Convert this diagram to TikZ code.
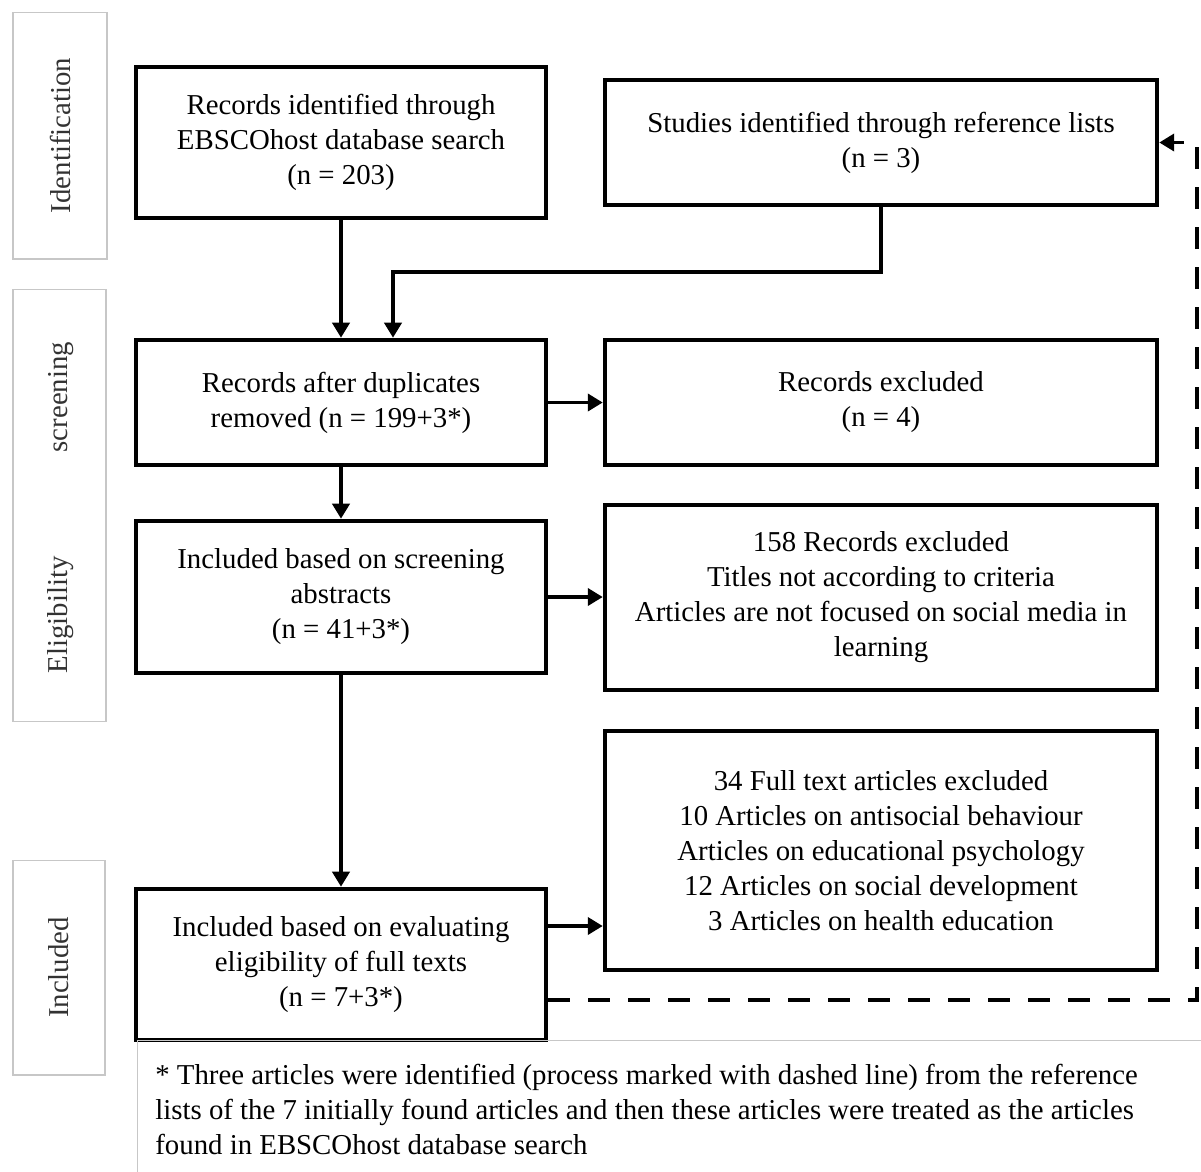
\documentclass[tikz,border=0pt]{standalone}
\usepackage{fontspec}
\setmainfont{Liberation Serif}
\usetikzlibrary{arrows.meta}
\newcommand{\flowfont}{\fontsize{16.4}{19.9}\selectfont}
\begin{document}
\begin{tikzpicture}[x=0.02cm, y=-0.02cm]
		\tikzset{bx/.style={draw=black, line width=2.6pt, align=center, inner sep=0pt, font=\flowfont, execute at begin node={\rule{0pt}{0.52cm}}}};
		\tikzset{ph/.style={draw=black!22, line width=0.6pt, inner sep=0pt}};
		\tikzset{phtxt/.style={rotate=90, text=black!80, font=\flowfont}};
		\tikzset{arr/.style={line width=2.2pt, -{Triangle[length=0.3cm, width=0.34cm]}}};
		\tikzset{dasharr/.style={arr, dash pattern=on 0.44cm off 0.36cm}};

		\useasboundingbox (0,0) rectangle (1201,1171);

		\node[ph, phtxt, minimum width=4.94cm, minimum height=1.88cm] (ident) at (60,135.5) {Identification};
		\node[ph, minimum width=1.86cm, minimum height=8.66cm] (screlig) at (59.5,505.5) {};
		\node[phtxt] (scr) at (61,397) {screening};
		\node[phtxt] (elig) at (61,615) {Eligibility};
		\node[ph, phtxt, minimum width=4.3cm, minimum height=1.84cm] (incl) at (59,967.5) {Included};

		\node[bx, minimum width=8.2cm, minimum height=3.02cm] (a) at (341,142.5) {Records identified through\\EBSCOhost database search\\(n = 203)};
		\node[bx, minimum width=11.04cm, minimum height=2.5cm] (b) at (881,142.5) {Studies identified through reference lists\\(n = 3)};
		\node[bx, minimum width=8.2cm, minimum height=2.5cm] (c) at (341,402.5) {Records after duplicates\\removed (n = 199+3*)};
		\node[bx, minimum width=11.04cm, minimum height=2.5cm] (d) at (881,402.5) {Records excluded\\(n = 4)};
		\node[bx, minimum width=8.2cm, minimum height=3.04cm] (e) at (341,597) {Included based on screening\\abstracts\\(n = 41+3*)};
		\node[bx, minimum width=11.04cm, minimum height=3.7cm] (f) at (881,597.5) {158 Records excluded\\Titles not according to criteria\\Articles are not focused on social media in\\learning};
		\node[bx, minimum width=8.2cm, minimum height=3.02cm] (g) at (341,964.5) {Included based on evaluating\\eligibility of full texts\\(n = 7+3*)};
		\node[bx, minimum width=11.04cm, minimum height=4.78cm] (h) at (881,850.5) {34 Full text articles excluded\\10 Articles on antisocial behaviour\\Articles on educational psychology\\12 Articles on social development\\3 Articles on health education};

		\node[ph, anchor=north west, minimum width=21.6cm, minimum height=3cm] (notebox) at (137,1040) {};
		\node[anchor=north west, align=left, inner sep=0pt, font=\flowfont] (note) at (155,1064) {* Three articles were identified (process marked with dashed line) from the reference\\lists of the 7 initially found articles and then these articles were treated as the articles\\found in EBSCOhost database search};

		\coordinate (bend) at (393,272);
		\coordinate (gout) at (546,926);
		\coordinate (dlow) at (1197,1000);
		\coordinate (dtop) at (1197,142.5);

		\draw[arr] (a) to (c);
		\draw[arr] (b.south) |- (bend) -- (bend |- c.north);

		\draw[arr] (c) to (d);
		\draw[arr] (c) to (e);

		\draw[arr] (e.east) -- (e.east -| f.west);
		\draw[arr] (e) to (g);

		\draw[arr] (g.east |- gout) -- (h.west |- gout);
		\draw[dasharr] (g.east |- dlow) -- (dlow) -- (dtop) -- (b.east);
	\end{tikzpicture}
\end{document}
